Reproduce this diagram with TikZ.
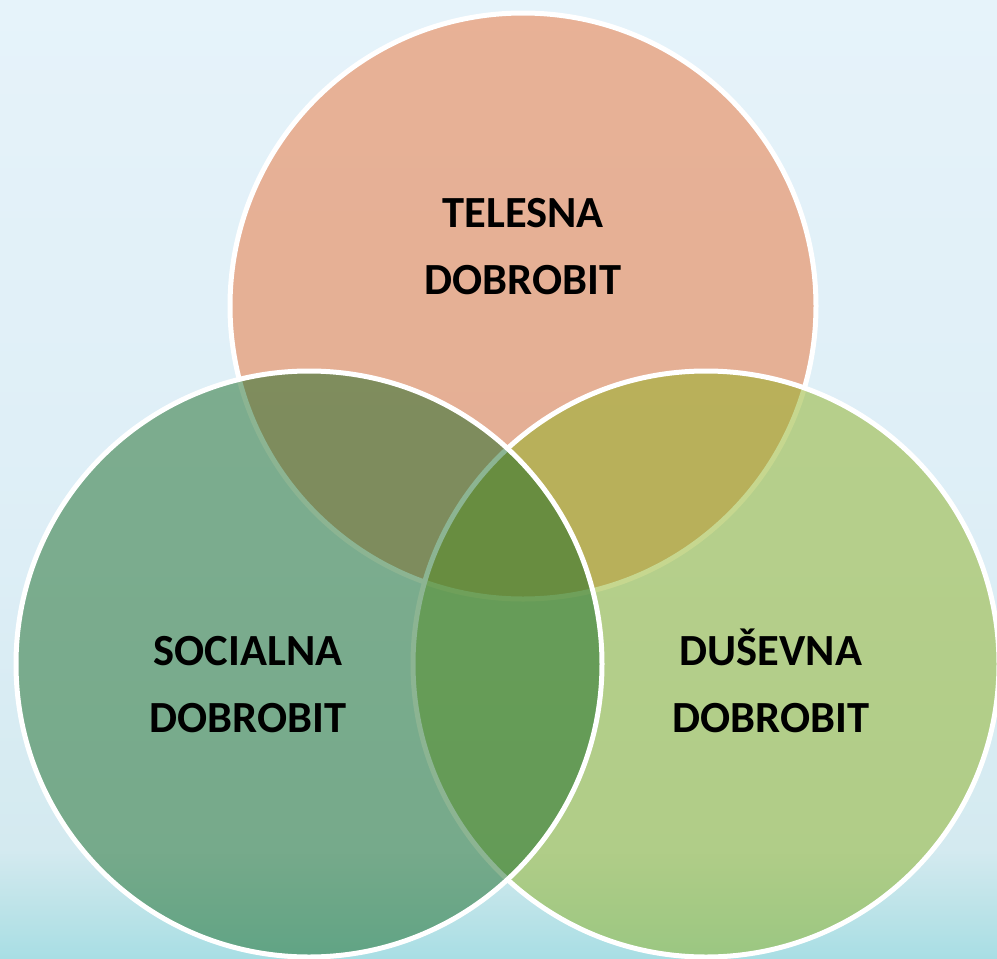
\documentclass[tikz,border=0pt]{standalone}
\usepackage{fontspec}
\setmainfont{Carlito}
\definecolor{bgtop}{RGB}{230,243,250}
\definecolor{bgmid0}{RGB}{221,238,246}
\definecolor{bgmid2}{RGB}{212,234,240}
\definecolor{bgmid1}{RGB}{192,228,233}
\definecolor{bgbot}{RGB}{168,222,228}
\definecolor{ctop}{RGB}{234,113,52}
\definecolor{cright}{RGB}{142,177,33}
\definecolor{cleft}{RGB}{26,107,39}
\pgfdeclareverticalshading{bgshade}{100bp}{color(0bp)=(bgbot); color(25bp)=(bgbot); color(28.1bp)=(bgmid1); color(30.7bp)=(bgmid2); color(45.8bp)=(bgmid0); color(75bp)=(bgtop); color(100bp)=(bgtop)}
\tikzset{
  venn/.style={circle, minimum size=586pt, inner sep=0pt, draw=white, line width=5pt, fill opacity=0.5},
  vennlabel/.style={font=\bfseries\fontsize{44.5}{67}\selectfont, align=center, text=black, inner sep=0pt, anchor=base}
}
\begin{document}
\begin{tikzpicture}[x=1pt,y=-1pt]
\shade[shading=bgshade] (0,0) rectangle (997,959);
\useasboundingbox (0,0) rectangle (997,959);
\begin{scope}
\clip (0,0) rectangle (997,959);
\node[venn, fill=ctop] (telesna) at (523,306) {};
\node[venn, fill=cright] (dusevna) at (706,664) {};
\node[venn, fill=cleft] (socialna) at (309,664) {};
\end{scope}
\node[vennlabel] (ltelesna) at (523,294) {TELESNA\\DOBROBIT};
\node[vennlabel] (lsocialna) at (248,732) {SOCIALNA\\DOBROBIT};
\node[vennlabel] (ldusevna) at (771,732) {DUŠEVNA\\DOBROBIT};
\end{tikzpicture}
\end{document}
